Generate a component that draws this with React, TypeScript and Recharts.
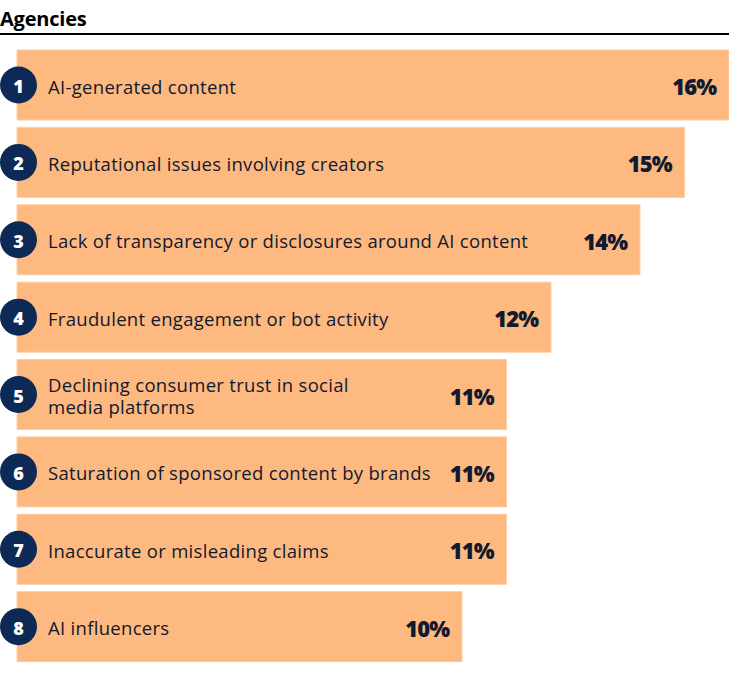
import React from "react";
import { BarChart, Bar, XAxis, YAxis, LabelList } from "recharts";

const ranks = [1, 2, 3, 4, 5, 6, 7, 8];
const concerns = [
  "AI-generated content",
  "Reputational issues involving creators",
  "Lack of transparency or disclosures around AI content",
  "Fraudulent engagement or bot activity",
  "Declining consumer trust in social\nmedia platforms",
  "Saturation of sponsored content by brands",
  "Inaccurate or misleading claims",
  "AI influencers",
];
const shares = [16, 15, 14, 12, 11, 11, 11, 10];

const data = concerns.map((c, i) => ({ rank: ranks[i], concern: c, share: shares[i] }));

const NAVY = "#0c2a55";
const INK = "#101a30";
const ORANGE = "#fdb97f";
const FONT = "'Open Sans', Lato, sans-serif";

function NameLabel(props: any) {
  const { x, y, height, index } = props;
  const row = data[index];
  const cy = y + height / 2;
  const lines = row.concern.split("\n");
  const lh = 22.5;
  const start = cy - ((lines.length - 1) * lh) / 2;
  return (
    <g>
      <circle cx={x + 1.5} cy={cy} r={18.5} fill={NAVY} />
      <text
        x={x + 1.5}
        y={cy + 1}
        textAnchor="middle"
        dominantBaseline="central"
        fill="#fff"
        fontFamily={FONT}
        fontWeight={800}
        fontSize={18}
      >
        {row.rank}
      </text>
      {lines.map((l: string, i: number) => (
        <text
          key={i}
          x={x + 31}
          y={start + i * lh + 1}
          dominantBaseline="central"
          fill={INK}
          fontFamily={FONT}
          fontSize={18.5}
          fontWeight={500}
          letterSpacing={0.3}
        >
          {l}
        </text>
      ))}
    </g>
  );
}

function ValueLabel(props: any) {
  const { x, y, width, height, value } = props;
  return (
    <text
      x={x + width - 13}
      y={y + height / 2 + 1}
      textAnchor="end"
      dominantBaseline="central"
      fill={INK}
      fontFamily={FONT}
      fontWeight={800}
      fontSize={22}
      letterSpacing={-1}
    >
      {value}%
    </text>
  );
}

export default function App() {
  return (
    <div style={{ position: "relative", width: 729, height: 673, background: "#fff" }}>
      <style>{`body{margin:0}`}</style>
      <div
        style={{
          position: "absolute",
          left: 0,
          top: 5,
          fontFamily: FONT,
          fontWeight: 700,
          fontSize: 20,
          letterSpacing: -0.2,
          color: "#000",
        }}
      >
        Agencies
      </div>
      <div
        style={{
          position: "absolute",
          left: 0,
          top: 33,
          width: 729,
          height: 2,
          background: "#000",
        }}
      />
      <BarChart
        width={729}
        height={673}
        data={data}
        layout="vertical"
        margin={{ top: 46, right: 0, bottom: 8, left: 17 }}
        barSize={70}
      >
        <XAxis type="number" domain={[0, 16]} hide />
        <YAxis type="category" dataKey="concern" hide width={0} />
        <Bar
          dataKey="share"
          fill={ORANGE}
          stroke="#fdcda3"
          strokeWidth={1}
          isAnimationActive={false}
        >
          <LabelList dataKey="concern" content={<NameLabel />} />
          <LabelList dataKey="share" content={<ValueLabel />} />
        </Bar>
      </BarChart>
    </div>
  );
}
